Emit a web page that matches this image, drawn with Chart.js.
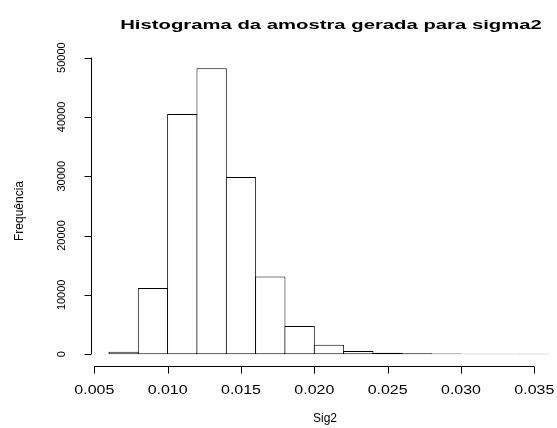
<!DOCTYPE html>
<html>
<head>
<meta charset="utf-8">
<script src="https://cdn.jsdelivr.net/npm/chart.js@4"></script>
<style>
  html, body { margin: 0; padding: 0; background: #fff; }
  #wrap { width: 557px; height: 428px; }
</style>
</head>
<body>
<div id="wrap"><canvas id="histChart" width="557" height="428"></canvas></div>
<script>
// histogram bins (left edges) and counts
let binStart = [0.006, 0.008, 0.010, 0.012, 0.014, 0.016, 0.018, 0.020, 0.022, 0.024, 0.026, 0.028, 0.030, 0.032, 0.034];
let binWidth = 0.002;
let counts = [400, 11150, 40500, 48200, 29850, 13100, 4750, 1600, 550, 230, 140, 100, 80, 65, 55];

let xTicks = [0.005, 0.010, 0.015, 0.020, 0.025, 0.030, 0.035];
let yTicks = [0, 10000, 20000, 30000, 40000, 50000];

let points = binStart.map((b, i) => ({ x: b + binWidth / 2, y: counts[i] }));

function drawText(ctx, text, x, y, font, sx, align) {
    ctx.save();
    ctx.translate(x, y);
    ctx.scale(sx, 1);
    ctx.font = font;
    ctx.textAlign = align;
    ctx.textBaseline = 'alphabetic';
    ctx.fillText(text, 0, 0);
    ctx.restore();
}

// R-style axes, drawn from the chart's own scales
let rAxes = {
    id: 'rAxes',
    afterDraw(chart) {
        let ctx = chart.ctx;
        let xs = chart.scales.x;
        let ys = chart.scales.y;
        let area = chart.chartArea;
        let tick = 7;
        ctx.save();
        ctx.strokeStyle = '#000';
        ctx.fillStyle = '#000';
        ctx.lineWidth = 1;

        // x axis
        let yb = Math.round(area.bottom) + 0.5;
        ctx.beginPath();
        ctx.moveTo(xs.getPixelForValue(xTicks[0]), yb);
        ctx.lineTo(xs.getPixelForValue(xTicks[xTicks.length - 1]), yb);
        xTicks.forEach(v => {
            let px = Math.round(xs.getPixelForValue(v)) + 0.5;
            ctx.moveTo(px, yb);
            ctx.lineTo(px, yb + tick);
        });
        ctx.stroke();
        xTicks.forEach(v => {
            drawText(ctx, v.toFixed(3), xs.getPixelForValue(v), 394, '12px "Liberation Sans", Arial, sans-serif', 1.33, 'center');
        });

        // y axis
        let xl = Math.round(area.left) + 0.5;
        ctx.beginPath();
        ctx.moveTo(xl, ys.getPixelForValue(yTicks[0]));
        ctx.lineTo(xl, ys.getPixelForValue(yTicks[yTicks.length - 1]));
        yTicks.forEach(v => {
            let py = Math.round(ys.getPixelForValue(v)) + 0.5;
            ctx.moveTo(xl, py);
            ctx.lineTo(xl - tick, py);
        });
        ctx.stroke();
        yTicks.forEach(v => {
            ctx.save();
            ctx.translate(65, ys.getPixelForValue(v));
            ctx.rotate(-Math.PI / 2);
            ctx.font = '11px "Liberation Sans", Arial, sans-serif';
            ctx.textAlign = 'center';
            ctx.fillText(String(v), 0, 0);
            ctx.restore();
        });

        // titles
        drawText(ctx, 'Histograma da amostra gerada para sigma2', 331, 29, 'bold 13px "Liberation Sans", Arial, sans-serif', 1.56, 'center');
        drawText(ctx, 'Sig2', 325, 422, '12px "Liberation Sans", Arial, sans-serif', 1, 'center');
        ctx.save();
        ctx.translate(23, 211);
        ctx.rotate(-Math.PI / 2);
        ctx.font = '12px "Liberation Sans", Arial, sans-serif';
        ctx.textAlign = 'center';
        ctx.fillText('Frequência', 0, 0);
        ctx.restore();

        ctx.restore();
    }
};

new Chart(document.getElementById('histChart'), {
    type: 'bar',
    data: {
        datasets: [
            {
                label: 'Sig2',
                data: points,
                backgroundColor: '#ffffff',
                borderColor: '#000000',
                borderSkipped: false,
                borderWidth: 1,
                // slight overlap so neighbouring borders share one line
                barPercentage: 1.034,
                categoryPercentage: 1,
                inflateAmount: 0,
            }
        ]
    },
    options: {
        responsive: false,
        animation: false,
        layout: {
            padding: { left: 91, right: 0, top: 57, bottom: 62 }
        },
        scales: {
            x: {
                type: 'linear',
                display: false,
                offset: false,
                min: 0.004775,
                max: 0.036547,
            },
            y: {
                display: false,
                min: -2000,
                max: 50100,
            }
        },
        plugins: {
            legend: { display: false },
            tooltip: { enabled: false },
        },
    },
    plugins: [rAxes]
});
</script>
</body>
</html>
